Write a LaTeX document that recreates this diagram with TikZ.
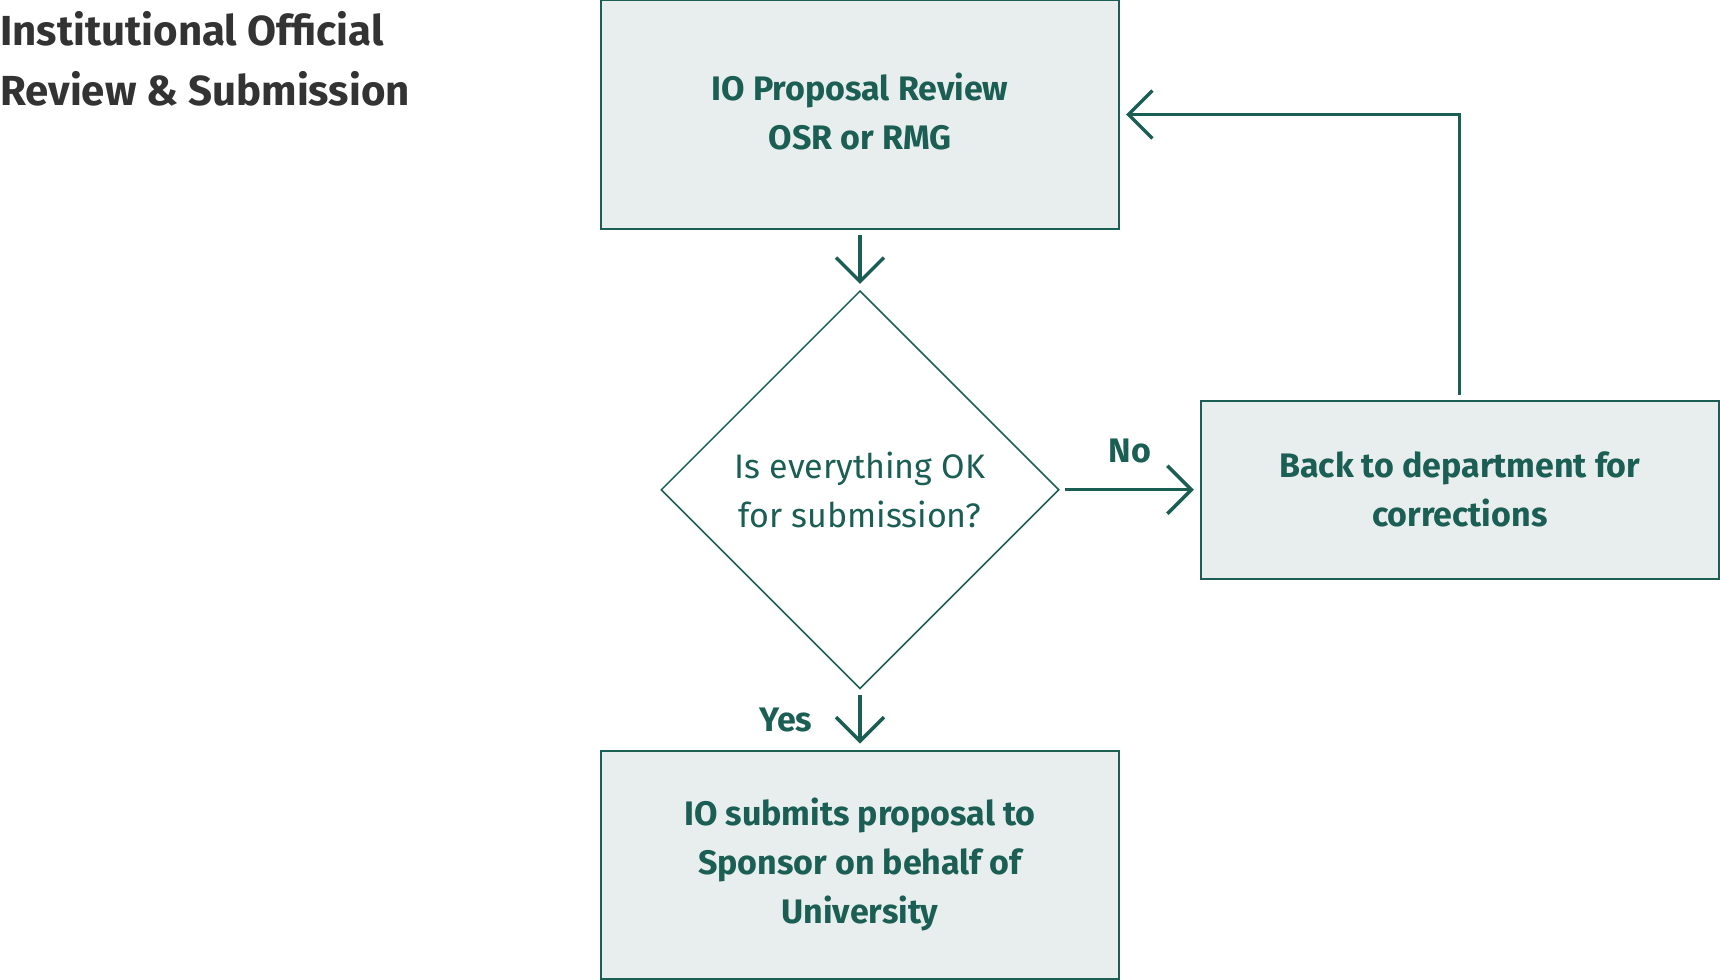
\documentclass[tikz,border=0pt]{standalone}
\usepackage{fontspec}
\setmainfont{Fira Sans}
\usetikzlibrary{shapes.geometric,arrows.meta,positioning}
\definecolor{flowgreen}{HTML}{1B5E54}
\definecolor{boxfill}{HTML}{E8EEEE}
\definecolor{titlegray}{HTML}{333333}

\tikzset{
  procbox/.style={rectangle, draw=flowgreen, line width=1pt, fill=boxfill, text=flowgreen,
    font=\fontsize{17}{24.5}\selectfont\bfseries, align=center, minimum width=259pt},
  decision/.style={diamond, draw=flowgreen, line width=0.75pt, text=flowgreen,
    font=\fontsize{17}{24.5}\selectfont, align=center, minimum width=199pt, minimum height=199pt, inner sep=0pt},
  flowarrow/.style={draw=flowgreen, line width=1.7pt, -{Straight Barb[length=12pt,width=24pt]},
    shorten <=2.5pt, shorten >=3pt},
  flowlabel/.style={text=flowgreen, font=\fontsize{17}{20}\selectfont\bfseries, inner sep=0pt}
}

\begin{document}
\begin{tikzpicture}[x=0.5pt, y=-0.5pt, node distance=30pt]
\useasboundingbox (0,0) rectangle (1720,980);
% title
\node (title) [anchor=north west, inner sep=0pt, align=left, text=titlegray,
  font=\fontsize{21}{30}\selectfont\bfseries] at (0,11) {Institutional Official\\Review \& Submission};
% flow
\node (review) [procbox, minimum height=114.5pt, text depth=3pt] at (860,114.5) {IO Proposal Review\\OSR or RMG};
\node (check) [decision, below=of review] {Is everything OK\\for submission?};
\node (submit) [procbox, minimum height=114pt, below=of check] {IO submits proposal to\\Sponsor on behalf of\\University};
\node (back) [procbox, minimum height=89pt, right=70pt of check] {Back to department for\\corrections};

\draw[flowarrow] (review) -- (check);
\draw[flowarrow] (check) -- node[flowlabel, left=23pt] {Yes} (submit);
\draw[flowarrow] (check) -- node[flowlabel, above=12.5pt] {No} (back);
\draw[flowarrow] (back.north) |- (review.east);
\end{tikzpicture}
\end{document}
